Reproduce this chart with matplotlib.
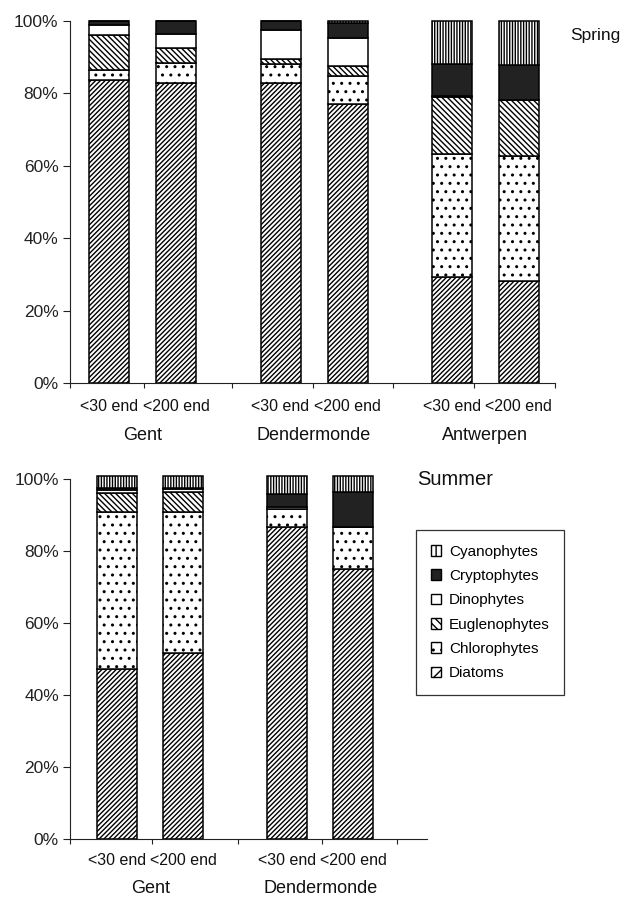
import matplotlib
matplotlib.use("Agg")
import matplotlib.pyplot as plt
from matplotlib.patches import Patch
import numpy as np

plt.rcParams['font.family'] = ['Liberation Sans', 'DejaVu Sans']
plt.rcParams['hatch.linewidth'] = 1.0

# ---------------- data ----------------
species = ["Diatoms", "Chlorophytes", "Euglenophytes", "Dinophytes", "Cryptophytes", "Cyanophytes"]
sample_labels = ["<30 end", "<200 end"]

spring_sites = ["Gent", "Dendermonde", "Antwerpen"]
# order of samples: Gent<30, Gent<200, Dend<30, Dend<200, Antw<30, Antw<200
spring_diatoms = [83.7, 83.0, 82.8, 77.0, 29.3, 28.3]
spring_chloro = [2.8, 5.3, 5.3, 7.9, 34.0, 34.3]
spring_eugleno = [9.6, 4.3, 1.4, 2.7, 15.6, 15.5]
spring_dino = [2.8, 3.7, 7.9, 7.8, 0.4, 0.0]
spring_crypto = [1.1, 3.7, 2.6, 4.1, 8.8, 9.8]
spring_cyano = [0.0, 0.0, 0.0, 0.5, 11.9, 12.1]

summer_sites = ["Gent", "Dendermonde"]
summer_diatoms = [47.4, 51.6, 86.7, 75.2]
summer_chloro = [43.5, 39.2, 5.1, 11.6]
summer_eugleno = [5.4, 5.6, 0.0, 0.0]
summer_dino = [0.8, 0.8, 0.5, 0.0]
summer_crypto = [0.5, 0.5, 3.7, 9.6]
summer_cyano = [3.2, 3.2, 4.8, 4.5]

yticks = [0, 20, 40, 60, 80, 100]
ytick_labels = ["0%", "20%", "40%", "60%", "80%", "100%"]

# ---------------- styles ----------------
styles = {
    "Diatoms": dict(facecolor="white", hatch="///////"),
    "Chlorophytes": dict(facecolor="white", hatch=".."),
    "Euglenophytes": dict(facecolor="white", hatch="\\\\\\\\\\\\"),
    "Dinophytes": dict(facecolor="white", hatch=None),
    "Cryptophytes": dict(facecolor="#222222", hatch=None),
    "Cyanophytes": dict(facecolor="white", hatch="||||||"),
}
legend_hatch = {
    "Diatoms": "///", "Chlorophytes": "..", "Euglenophytes": "\\\\\\\\",
    "Dinophytes": None, "Cryptophytes": None, "Cyanophytes": "|||",
}

W, H = 632, 897
fig = plt.figure(figsize=(W / 100, H / 100), dpi=100)


def px_axes(left, top, right, bottom):
    return fig.add_axes([left / W, 1 - bottom / H, (right - left) / W, (bottom - top) / H])


def draw_panel(ax, width_px, series, sites, first_center, group_step, half_sep,
               tick_pos, lab_off, grp_off):
    n = len(sites)
    centers = np.array([first_center + g * group_step for g in range(n)])
    xs = np.ravel(np.column_stack([centers - half_sep, centers + half_sep]))
    bottom = np.zeros(len(xs))
    for name, vals in zip(species, series):
        vals = np.array(vals, dtype=float)
        st = styles[name]
        ax.bar(xs, vals, width=40, bottom=bottom, facecolor=st["facecolor"],
               edgecolor="black", linewidth=1.1, hatch=st["hatch"], clip_on=False,
               zorder=2)
        bottom += vals
    ax.set_xlim(0, width_px)
    ax.set_ylim(0, 100)
    ax.set_yticks(yticks)
    ax.set_yticklabels(ytick_labels, fontsize=12.5)
    ax.set_xticks(tick_pos)
    ax.set_xticklabels([])
    ax.tick_params(axis="y", length=5, width=0.8, pad=3, colors="#222222")
    ax.tick_params(axis="x", length=3.6, width=0.8, colors="#222222")
    for s in ["top", "right"]:
        ax.spines[s].set_visible(False)
    for s in ["left", "bottom"]:
        ax.spines[s].set_linewidth(0.8)
        ax.spines[s].set_color("#222222")
    for i, x in enumerate(xs):
        ax.annotate(sample_labels[i % 2], xy=(x, 0), xycoords=("data", "axes fraction"),
                    xytext=(0, -lab_off), textcoords="offset points",
                    ha="center", va="baseline", fontsize=11.5, color="#111111")
    for c, site in zip(centers, sites):
        ax.annotate(site, xy=(c, 0), xycoords=("data", "axes fraction"),
                    xytext=(0, -grp_off), textcoords="offset points",
                    ha="center", va="baseline", fontsize=13, color="#111111")


# top panel (spring)
ax1 = px_axes(69.5, 21, 555, 383)
draw_panel(ax1, 555 - 69.5,
           [spring_diatoms, spring_chloro, spring_eugleno, spring_dino, spring_crypto, spring_cyano],
           spring_sites, 73.2, 171.3, 33.5,
           [0, 74.8, 162.2, 243.5, 323.2, 404.5, 485.5], 20.2, 41.0)

# bottom panel (summer)
ax2 = px_axes(70, 479.3, 427, 839)
draw_panel(ax2, 427 - 70,
           [summer_diatoms, summer_chloro, summer_eugleno, summer_dino, summer_crypto, summer_cyano],
           summer_sites, 80.4, 169.85, 33.0,
           [0, 82.3, 167.7, 251.7, 326.7], 18.7, 38.9)

fig.text(570 / W, 1 - 40 / H, "Spring", ha="left", va="baseline", fontsize=12.5, color="#111111")
fig.text(416.7 / W, 1 - 485 / H, "Summer", ha="left", va="baseline", fontsize=14.5, color="#111111")

handles = [Patch(facecolor=styles[n]["facecolor"], edgecolor="black", linewidth=1.0,
                 hatch=legend_hatch[n], label=n) for n in reversed(species)]
leg = fig.legend(handles=handles, loc="upper left", bbox_to_anchor=(416 / W, 1 - 530 / H),
                 borderaxespad=0, frameon=True, fancybox=False, fontsize=11,
                 handlelength=0.7, handleheight=0.7, handletextpad=0.5,
                 labelspacing=0.68, borderpad=0.95)
leg.get_frame().set_edgecolor("black")
leg.get_frame().set_linewidth(0.9)

fig.savefig("out.png", dpi=100)
